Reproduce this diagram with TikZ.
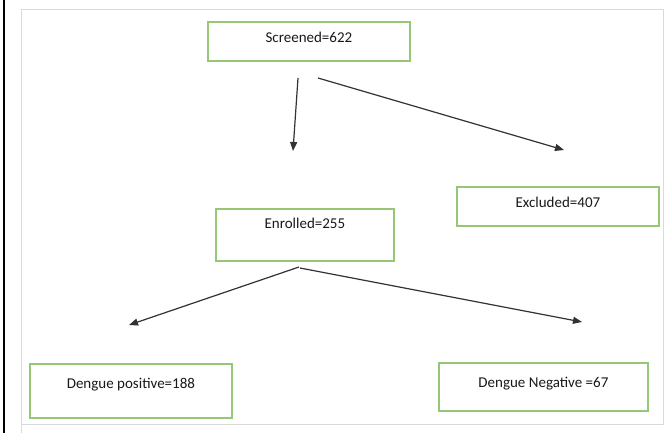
\documentclass[tikz,border=0pt]{standalone}
\usepackage{fontspec}
\setmainfont{Carlito}
\usetikzlibrary{arrows.meta}
\definecolor{boxgreen}{RGB}{150,198,118}
\definecolor{framegray}{RGB}{218,218,218}
\definecolor{linegray}{RGB}{50,50,50}
\definecolor{txt}{RGB}{25,25,25}
\begin{document}
\begin{tikzpicture}[x=1pt,y=-1pt,
  box/.style={draw=boxgreen, line width=1.8pt, fill=white, anchor=north west,
    inner xsep=0pt, inner ysep=0pt, text=txt, font=\fontsize{15}{17}\selectfont},
  conn/.style={draw=linegray, line width=1.2pt, -{Triangle[length=9pt,width=7pt]}}]
\useasboundingbox (0,0) rectangle (670,433);
\fill[white] (0,0) rectangle (670,433);
% frame
\draw[framegray, line width=0.9pt] (21,433) -- (21,9) -- (663,9) -- (663,424) -- (21,424);
\draw[black, line width=2pt] (4,0) -- (4,433);
% boxes
\node[box, minimum width=202pt, text height=21pt, text depth=18pt] (scr) at (207,21) {Screened=622};
\node[box, minimum width=202pt, text height=21pt, text depth=18pt] (exc) at (456,186) {Excluded=407};
\node[box, minimum width=178pt, text height=20pt, text depth=32pt] (enr) at (215,208) {Enrolled=255};
\node[box, minimum width=202pt, text height=25pt, text depth=29pt] (pos) at (29,363) {Dengue positive=188};
\node[box, minimum width=209pt, text height=25pt, text depth=23pt] (neg) at (438,362) {Dengue Negative =67};
% connector end points
\coordinate (s1) at (298,78);
\coordinate (e1) at (293,151);
\coordinate (s2) at (318,78);
\coordinate (e2) at (564,150);
\coordinate (s3) at (299,267);
\coordinate (e3) at (129,325);
\coordinate (s4) at (300,268);
\coordinate (e4) at (582,322);
\draw[conn] (s1) -- (e1);
\draw[conn] (s2) -- (e2);
\draw[conn] (s3) -- (e3);
\draw[conn] (s4) -- (e4);
\end{tikzpicture}
\end{document}
